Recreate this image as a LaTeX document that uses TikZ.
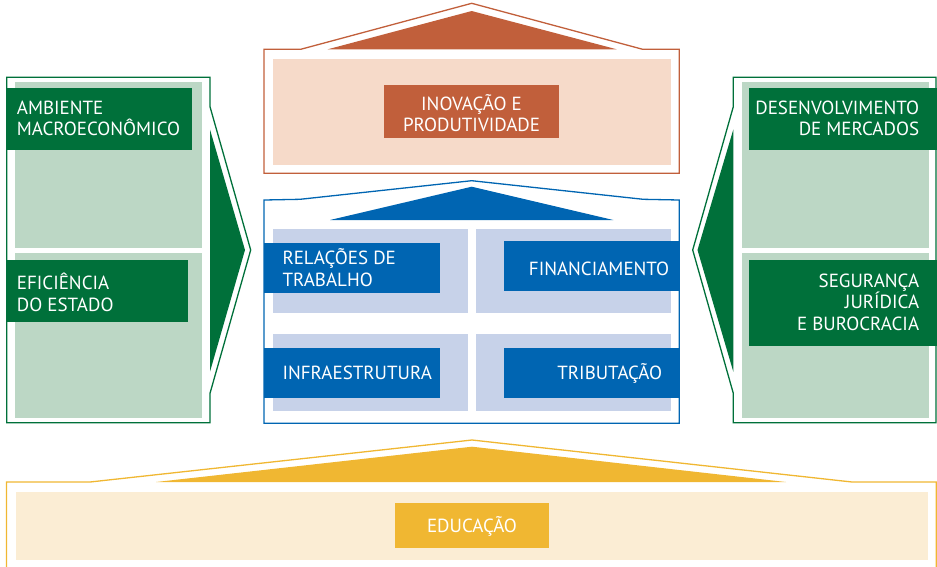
\documentclass[tikz,border=0pt]{standalone}
\usepackage{fontspec}
\setmainfont{PT Sans}
\definecolor{orD}{HTML}{C15F3B}
\definecolor{orL}{HTML}{F6DAC9}
\definecolor{blD}{HTML}{0065B2}
\definecolor{blL}{HTML}{C7D2E9}
\definecolor{grD}{HTML}{00703A}
\definecolor{grL}{HTML}{BCD7C5}
\definecolor{yeD}{HTML}{F0B732}
\definecolor{yeL}{HTML}{FBEDD4}
\begin{document}
\begin{tikzpicture}[x=1pt,y=-1pt,
  outl/.style={line width=1.3pt, line join=miter},
  lbox/.style={inner sep=0pt, draw=none},
  txt/.style={inner sep=0pt, text=white, font=\fontsize{19}{21.5}\selectfont}]
\useasboundingbox (0,0) rectangle (937,566);

% ---------- top: innovation (orange)
\draw[outl, draw=orD] (264,173.3) -- (264,49.3) -- (300.7,49.3) -- (471.7,3.3) -- (642.7,49.3) -- (679.3,49.3) -- (679.3,173.3) -- cycle;
\fill[orD] (327.7,49.3) -- (471.7,11) -- (616.7,49.3) -- cycle;
\fill[orL] (272.7,59.3) rectangle (671,164.7);
\node[lbox, fill=orD, minimum width=175pt, minimum height=52.7pt] (inovbox) at (471.5,111.3) {};
\node[txt, align=center] (inov) at (471.5,113.3) {INOVAÇÃO E\\PRODUTIVIDADE};

% ---------- middle: blue
\draw[outl, draw=blD] (264,423.3) -- (264,200) -- (300,199.3) -- (471.7,180.7) -- (643.3,199.3) -- (679.3,200) -- (679.3,423.3) -- cycle;
\fill[blD] (330,220) -- (471.7,186.7) -- (613.3,220) -- cycle;
\fill[blL] (272.7,229.3) rectangle (467.7,312.7);
\fill[blL] (476,229.3) rectangle (671,312.7);
\fill[blL] (272.7,334) rectangle (467.7,410.7);
\fill[blL] (476,334) rectangle (671,410.7);
\node[lbox, fill=blD, minimum width=175.7pt, minimum height=50pt] (relbox) at (352.15,267.7) {};
\node[txt, anchor=west, align=left] (rel) at (282.3,267.5) {RELAÇÕES DE\\TRABALHO};
\node[lbox, fill=blD, minimum width=176pt, minimum height=49.7pt] (finbox) at (592,265.85) {};
\node[txt, anchor=east] (fin) at (669.3,268.8) {FINANCIAMENTO};
\node[lbox, fill=blD, minimum width=175.7pt, minimum height=49.4pt] (infbox) at (352.15,373) {};
\node[txt, anchor=west] (inf) at (282.3,373.3) {INFRAESTRUTURA};
\node[lbox, fill=blD, minimum width=176pt, minimum height=49.4pt] (tribbox) at (592,373) {};
\node[txt, anchor=east] (trib) at (662.3,373.3) {TRIBUTAÇÃO};

% ---------- left: green
\draw[outl, draw=grD] (6.7,77.3) -- (210,77.3) -- (210,106.7) -- (250.7,250) -- (210,393.3) -- (210,422.7) -- (6.7,422.7) -- cycle;
\fill[grD] (210,129.5) -- (245,250) -- (210,371.7) -- cycle;
\fill[grL] (15,82.3) rectangle (202.3,247.7);
\fill[grL] (15,252.7) rectangle (202.3,418.3);
\node[lbox, fill=grD, minimum width=185.6pt, minimum height=62.3pt] (ambbox) at (99.5,118.85) {};
\node[txt, anchor=west, align=left] (amb) at (16.7,118.4) {AMBIENTE\\MACROECONÔMICO};
\node[lbox, fill=grD, minimum width=181pt, minimum height=61.7pt] (efibox) at (97.2,290.85) {};
\node[txt, anchor=west, align=left] (efi) at (16.7,292.5) {EFICIÊNCIA\\DO ESTADO};

% ---------- right: green
\draw[outl, draw=grD] (936,77.3) -- (733.3,77.3) -- (733.3,106.7) -- (692.7,250) -- (733.3,393.3) -- (733.3,422.7) -- (936,422.7) -- cycle;
\fill[grD] (733.3,129.5) -- (697.5,250) -- (733.3,371.7) -- cycle;
\fill[grL] (741.7,82.3) rectangle (929.3,247.7);
\fill[grL] (741.7,252.7) rectangle (929.3,418.3);
\node[lbox, fill=grD, minimum width=190pt, minimum height=62.3pt] (desbox) at (844,118.85) {};
\node[txt, anchor=east, align=right] (des) at (919.3,118.4) {DESENVOLVIMENTO\\DE MERCADOS};
\node[lbox, fill=grD, minimum width=190pt, minimum height=86pt] (segbox) at (844,303) {};
\node[txt, anchor=east, align=right] (seg) at (919.3,302) {SEGURANÇA\\JURÍDICA\\E BUROCRACIA};

% ---------- bottom: yellow
\draw[outl, draw=yeD] (6.5,572) -- (6.5,482) -- (90,482) -- (472,440) -- (852,482) -- (936.3,482) -- (936.3,572);
\fill[yeD] (156,482) -- (472,446.7) -- (786,482) -- cycle;
\fill[yeL] (16,492) rectangle (927.6,560);
\node[lbox, fill=yeD, minimum width=154pt, minimum height=45pt] (edubox) at (472,525.2) {};
\node[txt] (edu) at (472,526.3) {EDUCAÇÃO};
\end{tikzpicture}
\end{document}
